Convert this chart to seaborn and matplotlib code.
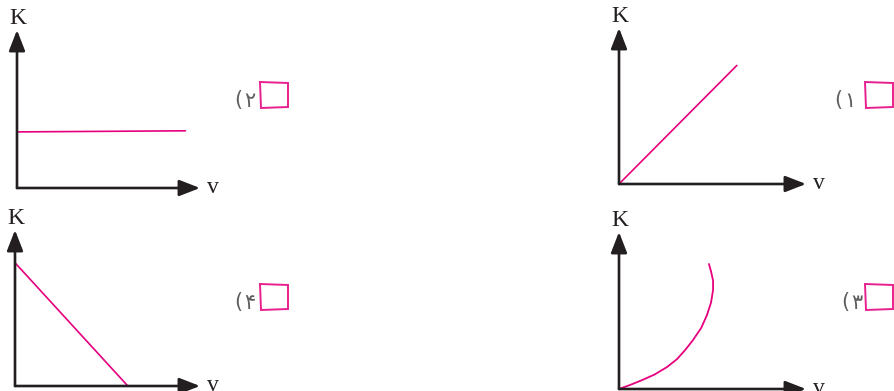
import matplotlib
matplotlib.use("Agg")
import matplotlib.pyplot as plt
from matplotlib.patches import Polygon
import seaborn as sns

# option 1: K grows linearly with v
v_lin = [0, 6.3]
k_lin = [0, 7.6]
# option 2: K constant
v_const = [0, 9.2]
k_const = [3.55, 3.62]
# option 3: curve bending back
v_curve = [0, 0.6, 1.2, 1.9, 2.57, 3.1, 3.55, 3.96, 4.4, 4.7, 4.92, 5.03, 5.03, 4.92, 4.81]
k_curve = [0, 0.26, 0.55, 0.92, 1.40, 1.9, 2.5, 3.12, 3.9, 4.7, 5.5, 6.3, 6.9, 7.5, 7.96]
# option 4: K decreasing with v
v_dec = [0, 6.1]
k_dec = [7.9, 0]

option_digits = ["۱", "۲", "۳", "۴"]
axis_labels = ("v", "K")

sns.set_style("white")

W, H = 895, 391
fig = plt.figure(figsize=(W / 100, H / 100), dpi=100)

PINK = "#e6007e"
BOX = "#e8208f"
AXC = "#231f20"
GRAY = "#5f5f5f"


def px_axes(x0, y0, x1, y1):
    # origin (x0, y0) and arrow tips (x1, y1) in image pixels, y down
    ax = fig.add_axes([x0 / W, (H - y0) / H, (x1 - x0) / W, (y0 - y1) / H])
    ax.set_xlim(0, 10)
    ax.set_ylim(0, 10)
    ax.axis("off")
    arrow = dict(arrowstyle="-|>,head_length=0.9,head_width=0.35", color=AXC,
                 lw=1.9, shrinkA=0, shrinkB=0, mutation_scale=14)
    ax.annotate("", xy=(10, 0), xytext=(0, 0), arrowprops=arrow, annotation_clip=False)
    ax.annotate("", xy=(0, 10), xytext=(0, 0), arrowprops=arrow, annotation_clip=False)
    ax.text(10.4, 0.05, axis_labels[0], ha="left", va="center", fontsize=17,
            family="Liberation Serif", color=AXC)
    ax.text(0.05, 10.05, axis_labels[1], ha="center", va="bottom", fontsize=17,
            family="Liberation Serif", color=AXC)
    return ax


def option(x_text, x_box, y_top, digit):
    yc = (H - (y_top + 20)) / H
    # digit next to the box, opening bracket on its left (right-to-left reading)
    fig.text(x_text / W, yc, digit, ha="right", va="center",
             fontsize=15, color=GRAY, family=["DejaVu Sans"])
    fig.text((x_text - 13) / W, yc + 1 / H, "(", ha="right", va="center",
             fontsize=15, color=GRAY, family=["DejaVu Sans"])
    pts = [(x_box, y_top + 1), (x_box + 28, y_top + 2), (x_box + 28, y_top + 26),
           (x_box + 1, y_top + 27)]
    fig.patches.append(Polygon([(x / W, (H - y) / H) for x, y in pts], closed=True,
                               fill=False, ec=BOX, lw=1.4,
                               transform=fig.transFigure, figure=fig))


ax1 = px_axes(619, 184, 806, 28)
sns.lineplot(x=v_lin, y=k_lin, ax=ax1, color=PINK, lw=1.2, sort=False, estimator=None)

ax2 = px_axes(17, 188, 200, 30)
sns.lineplot(x=v_const, y=k_const, ax=ax2, color=PINK, lw=1.2, sort=False, estimator=None)

ax3 = px_axes(619, 389, 806, 232)
sns.lineplot(x=v_curve, y=k_curve, ax=ax3, color=PINK, lw=1.3, sort=False, estimator=None)

ax4 = px_axes(15, 386, 200, 230)
sns.lineplot(x=v_dec, y=k_dec, ax=ax4, color=PINK, lw=1.2, sort=False, estimator=None)

for a in (ax1, ax2, ax3, ax4):
    for ln in a.lines:
        ln.set_clip_on(False)
        ln.set_solid_joinstyle("round")

option(855, 865, 81, option_digits[0])
option(255, 260, 81, option_digits[1])
option(862, 865, 283, option_digits[2])
option(255, 260, 283, option_digits[3])

fig.savefig("out.png", dpi=100)
